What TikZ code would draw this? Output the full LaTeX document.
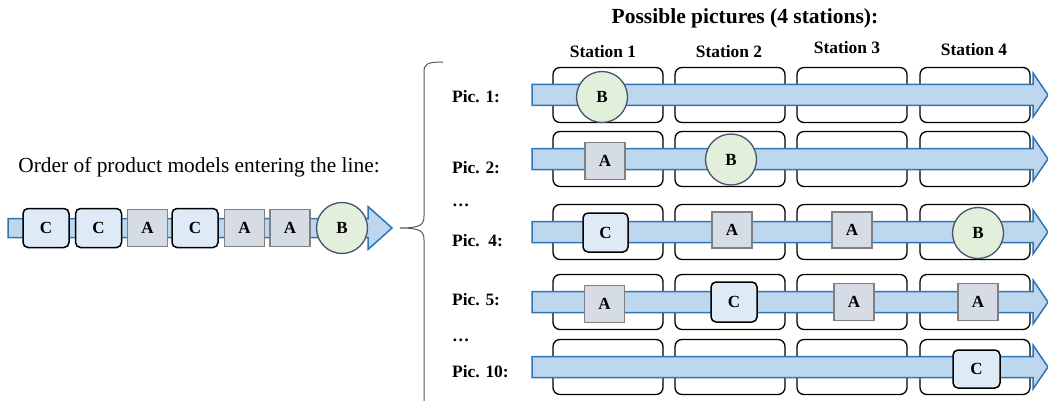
\documentclass[tikz,border=0pt]{standalone}
\usepackage{fontspec}
\setmainfont{Liberation Serif}
\usepackage{tikz}
\usetikzlibrary{arrows, positioning, shapes}

\definecolor{flowfill}{RGB}{189,215,238}
\definecolor{flowline}{RGB}{46,117,182}
\definecolor{cfill}{RGB}{222,235,247}
\definecolor{afill}{RGB}{214,220,229}
\definecolor{aline}{RGB}{128,128,128}
\definecolor{bfill}{RGB}{226,239,218}
\definecolor{bline}{RGB}{68,84,106}

% block arrow: start x, tip x, y, half shaft, half head, head length
\newcommand{\flowarrow}[6]{%
	\draw [flow] (#1,#3-#4) -- (#2-#6,#3-#4) -- (#2-#6,#3-#5) -- (#2,#3)
		-- (#2-#6,#3+#5) -- (#2-#6,#3+#4) -- (#1,#3+#4) -- cycle;}

\begin{document}
\begin{tikzpicture}[x=1pt, y=-1pt,
	flow/.style={draw=flowline, fill=flowfill, line width=1.5pt},
	tokc/.style={draw=black, line width=1.5pt, rounded corners=5pt, fill=cfill,
		minimum width=46pt, minimum height=39pt, font=\fontsize{17}{20}\selectfont\bfseries},
	toka/.style={draw=aline, line width=1.5pt, fill=afill,
		minimum width=40pt, minimum height=37pt, font=\fontsize{17}{20}\selectfont\bfseries},
	tokb/.style={circle, draw=bline, line width=1.3pt, fill=bfill,
		minimum size=51pt, inner sep=0pt, font=\fontsize{17}{20}\selectfont\bfseries},
	stationbox/.style={draw, line width=1.3pt, rounded corners=7pt, fill=white,
		minimum width=110pt, minimum height=55pt},
	label/.style={font=\fontsize{17.4}{20}\selectfont\bfseries, inner sep=0pt}]

\useasboundingbox (0,0) rectangle (1048,401);

% order entering the line
\node [font=\fontsize{21.4}{25}\selectfont, inner sep=0pt] (order) at (199,167)
	{Order of product models entering the line:};

\flowarrow{8}{392}{228}{9.5}{21.5}{24}

\node [tokc] (in1) at (46,228) {C};
\node [tokc] (in2) at (98.5,228) {C};
\node [toka] (in3) at (147.5,228) {A};
\node [tokc] (in4) at (195,228) {C};
\node [toka] (in5) at (244.5,228) {A};
\node [toka] (in6) at (290,228) {A};
\node [tokb] (in7) at (342,228) {B};

% brace
\draw [gray!70!black, line width=1pt] (443,62) .. controls (427,62) and (424,64) .. (424,72)
	-- (424,216) .. controls (424,225) and (420,228) .. (400,228)
	.. controls (420,228) and (424,231) .. (424,240) -- (424,401);

% possible pictures
\node [font=\fontsize{21.5}{25}\selectfont\bfseries, inner sep=0pt] (title) at (745,18)
	{Possible pictures (4 stations):};

\node [label] (st1) at (603,52) {Station 1};
\node [label] (st2) at (729,52) {Station 2};
\node [label] (st3) at (847,48) {Station 3};
\node [label] (st4) at (974,50) {Station 4};

\foreach \y/\n/\ly/\txt in {95/1/97/Pic. 1:, 159/2/168/Pic. 2:, 232/4/241/Pic.\ \ 4:,
		302/5/300/Pic. 5:, 367/10/372/Pic. 10:} {
	\foreach \x/\i in {608/1, 730/2, 852/3, 975/4}
		\node [stationbox] (s\n-\i) at (\x,\y) {};
	\flowarrow{532}{1048}{\y}{10.5}{22}{15}
	\node [label, anchor=west] (pic\n) at (452,\ly) {\txt};
}

\node [label, anchor=west] (dots1) at (452,205) {\ldots};
\node [label, anchor=west] (dots2) at (452,340) {\ldots};

\node [tokb] (p1b) at (602,97) {B};

\node [toka] (p2a) at (605,161) {A};
\node [tokb] (p2b) at (731,159.5) {B};

\node [tokc, minimum width=45pt] (p4c) at (605.5,232.5) {C};
\node [toka, minimum height=36pt] (p4a1) at (732,230) {A};
\node [toka, minimum height=36pt] (p4a2) at (852,230) {A};
\node [tokb] (p4b) at (978,233) {B};

\node [toka] (p5a1) at (604.5,304) {A};
\node [tokc, minimum height=40pt] (p5c) at (734,302) {C};
\node [toka] (p5a2) at (854,302) {A};
\node [toka] (p5a3) at (978,302) {A};

\node [tokc, minimum width=47pt, minimum height=38pt] (p10c) at (976.5,369) {C};

\end{tikzpicture}
\end{document}
